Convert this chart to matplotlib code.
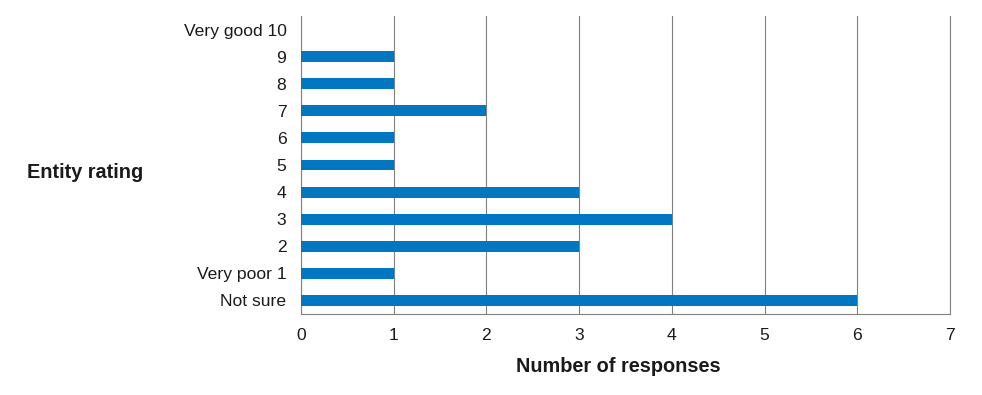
import matplotlib
matplotlib.use("Agg")
import matplotlib.pyplot as plt

plt.rcParams['font.family'] = ['Liberation Sans', 'DejaVu Sans']

categories = ["Not sure", "Very poor 1", "2", "3", "4", "5", "6", "7", "8", "9", "Very good 10"]
responses = [6, 1, 3, 4, 3, 1, 1, 2, 1, 1, 0]
xticks = [0, 1, 2, 3, 4, 5, 6, 7]

fig = plt.figure(figsize=(9.82, 3.95), dpi=100)
ax = fig.add_axes([301/982, 1-314/395, (950-301)/982, (314-16)/395])

ypos = list(range(len(categories)))
ax.barh(ypos, responses, height=0.4, color='#0077C0', zorder=3)
ax.set_ylim(-0.5, len(categories)-0.5)
ax.set_xlim(0, 7)
ax.set_xticks(xticks)
ax.set_yticks(ypos)
ax.set_yticklabels(categories)
ax.tick_params(axis='both', length=0, labelsize=12.6, colors='#1a1a1a')
ax.tick_params(axis='x', pad=10)
ax.tick_params(axis='y', pad=10.5)
ax.grid(axis='x', color='#808080', linewidth=0.8, zorder=0)
ax.grid(axis='y', visible=False)
ax.spines['top'].set_visible(False)
for s in ['left', 'right', 'bottom']:
    ax.spines[s].set_color('#808080')
    ax.spines[s].set_linewidth(0.8)

fig.text(618/982, 1-367/395, "Number of responses", fontsize=14.3, fontweight='bold',
         ha='center', va='center', color='#1a1a1a')
fig.text(85/982, 1-173/395, "Entity rating", fontsize=14.3, fontweight='bold',
         ha='center', va='center', color='#1a1a1a')

fig.savefig("out.png", dpi=100)
